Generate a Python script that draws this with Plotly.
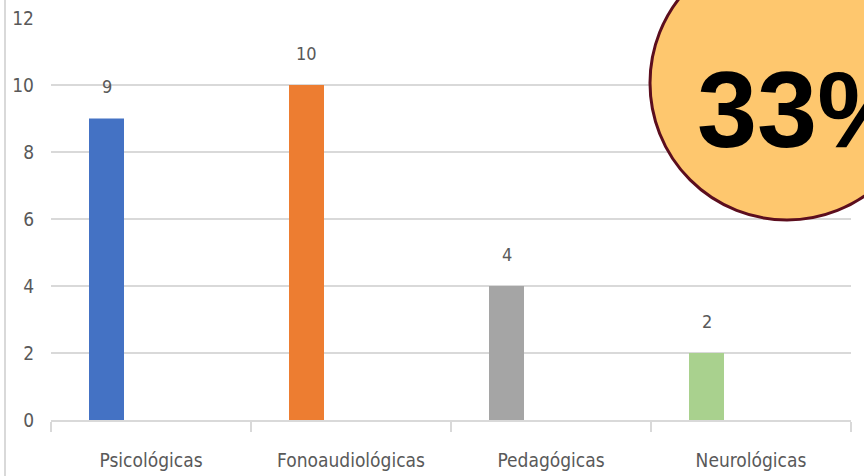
import plotly.graph_objects as go

categories = ["Psicológicas", "Fonoaudiológicas", "Pedagógicas", "Neurológicas"]
values = [9, 10, 4, 2]
colors = ["#4472C4", "#ED7D31", "#A5A5A5", "#A9D18E"]
y_ticks = [0, 2, 4, 6, 8, 10, 12]
badge_text = "33%"

W, H = 864, 476
ML, MR, MT, MB = 51, 13, 18, 56
PW, PH = W - ML - MR, H - MT - MB

def px_x(x):
    return (x - ML) / PW

def px_y(y):
    return (H - MB - y) / PH

fig = go.Figure()
fig.add_trace(go.Bar(
    x=categories, y=values, marker=dict(color=colors, line=dict(width=0)),
    offset=-0.31, width=0.175, showlegend=False, hoverinfo="x+y",
))

font_fam = "Liberation Sans Narrow, DejaVu Sans Condensed, Arial Narrow, sans-serif"
for i, v in enumerate(values):
    fig.add_annotation(x=i - 0.2225, y=v, text=str(v), showarrow=False,
                       yanchor="middle", yshift=32,
                       font=dict(family=font_fam, size=18, color="#595959"))

# left border line
fig.add_shape(type="line", xref="paper", yref="paper",
              x0=px_x(5), x1=px_x(5), y0=px_y(476), y1=px_y(0),
              line=dict(color="#d9d9d9", width=2))

# badge circle
fig.add_shape(type="circle", xref="paper", yref="paper",
              x0=px_x(650), x1=px_x(924), y0=px_y(220), y1=px_y(-54),
              fillcolor="#FEC76E", line=dict(color="#5C0E1E", width=3), layer="above")
fig.add_annotation(xref="paper", yref="paper", x=px_x(695), y=px_y(110),
                   xanchor="left", yanchor="middle", text=badge_text, showarrow=False,
                   font=dict(family="Liberation Sans, Arial, sans-serif", size=108,
                             color="black", weight="bold"))

fig.update_layout(
    width=W, height=H, margin=dict(l=ML, r=MR, t=MT, b=MB, autoexpand=False),
    paper_bgcolor="white", plot_bgcolor="white",
    xaxis=dict(type="category", tickson="boundaries", ticks="outside", ticklen=10,
               tickcolor="#d9d9d9", tickwidth=2, showline=True, linecolor="#d9d9d9",
               linewidth=2, showgrid=False, range=[-0.5, 3.5], automargin=False,
               ticklabelstandoff=22,
               tickfont=dict(family=font_fam, size=19, color="#595959")),
    yaxis=dict(range=[0, 12], tickvals=y_ticks, showgrid=True, gridcolor="#d9d9d9",
               gridwidth=2, zeroline=False, showline=False, ticks="", automargin=False,
               ticklabelstandoff=16,
               tickfont=dict(family=font_fam, size=19, color="#595959")),
)

fig.write_html("out.html", config={"displayModeBar": False},
               post_script="document.body.style.margin='0';document.body.style.overflow='hidden';")
